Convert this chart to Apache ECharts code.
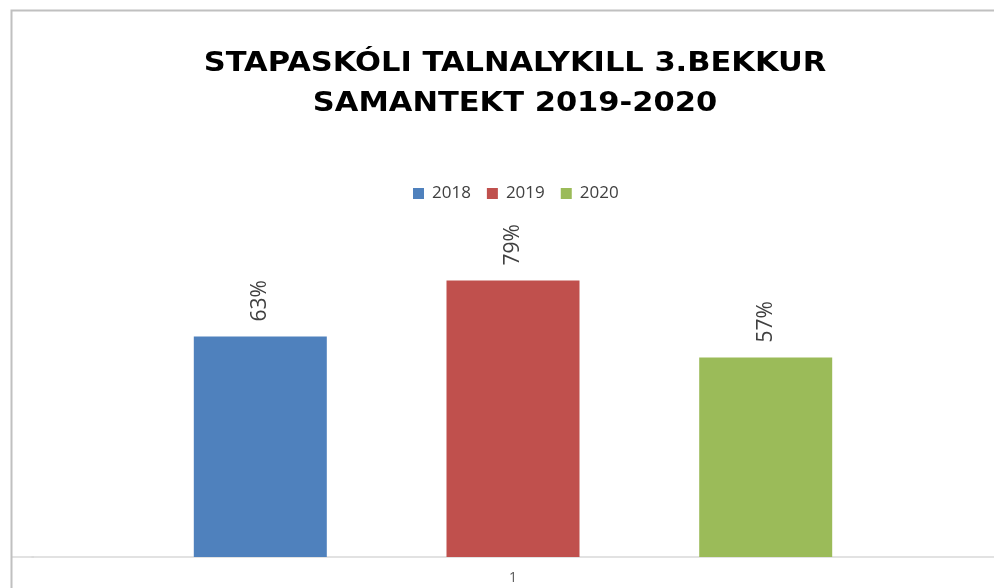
<!DOCTYPE html>
<html><head><meta charset="utf-8">
<script src="https://cdn.jsdelivr.net/npm/echarts@6/dist/echarts.min.js"></script>
<style>html,body{margin:0;padding:0;background:#fff}#c{width:994px;height:588px}</style>
</head><body><div id="c"></div>
<script>
const categories = ['1'];
const seriesNames = ['2018', '2019', '2020'];
const values2018 = [63];
const values2019 = [79];
const values2020 = [57];
const colors = ['#4F81BD', '#C0504D', '#9BBB59'];
const titleLines = ['STAPASKÓLI TALNALYKILL 3.BEKKUR', 'SAMANTEKT 2019-2020'];

const chart = echarts.init(document.getElementById('c'));
const dataSets = [values2018, values2019, values2020];
const label = {
  show: true, position: 'top', rotate: 90, align: 'left', verticalAlign: 'middle',
  distance: 15, formatter: p => p.value + '%',
  fontFamily: 'Open Sans', fontSize: 21, color: '#404040'
};
chart.setOption({
  animation: false,
  backgroundColor: '#fff',
  graphic: [{
    type: 'rect', shape: {x: 11.5, y: 10.5, width: 1200, height: 700},
    style: {fill: 'none', stroke: '#c0c0c0', lineWidth: 2}, z: 100
  }, {
    type: 'line', shape: {x1: 12, y1: 557, x2: 34, y2: 557},
    style: {stroke: '#d9d9d9', lineWidth: 1.5}
  }, {
    type: 'text', x: 515, y: 44, scaleX: 1.13,
    style: {
      text: titleLines.join('\n'), x: 0, y: 0, textAlign: 'center', textVerticalAlign: 'top',
      font: 'bold 27px "DejaVu Sans"', lineHeight: 40, fill: '#000'
    }
  }],
  legend: {
    data: seriesNames, left: 408, top: 180,
    itemWidth: 11, itemHeight: 11, itemGap: 16, icon: 'rect',
    textStyle: {fontFamily: 'Open Sans', fontSize: 17, color: '#404040', padding: [0,0,0,3]}
  },
  grid: {left: 32, right: 0, top: 207, bottom: 31, containLabel: false},
  xAxis: {
    type: 'category', data: categories,
    axisLine: {lineStyle: {color: '#d9d9d9', width: 1.5}},
    axisTick: {show: false},
    axisLabel: {margin: 14, fontFamily: 'Open Sans', fontSize: 14, color: '#595959'}
  },
  yAxis: {type: 'value', min: 0, max: 100, show: false, splitLine: {show: false}},
  series: seriesNames.map((n, i) => ({
    name: n, type: 'bar', data: dataSets[i], barWidth: 133, barGap: '90%',
    itemStyle: {color: colors[i]}, label: label
  }))
});
</script></body></html>
